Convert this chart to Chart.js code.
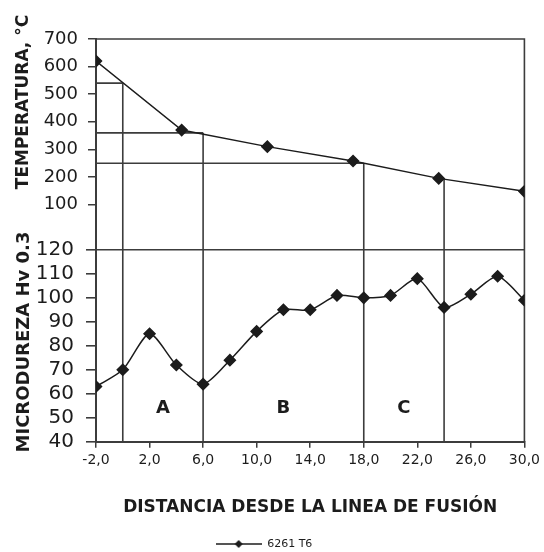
<!DOCTYPE html>
<html>
<head>
<meta charset="utf-8">
<script src="https://cdn.jsdelivr.net/npm/chart.js@4/dist/chart.umd.min.js"></script>
<style>
  html, body { margin: 0; padding: 0; background: #fff; }
  #wrap { width: 544px; height: 552px; }
</style>
</head>
<body>
<div id="wrap"><canvas id="c"></canvas></div>
<script>
// Microhardness profile (Hv 0.3) against distance from the fusion line
const distances = [-2, 0, 2, 4, 6, 8, 10, 12, 14, 16, 18, 20, 22, 24, 26, 28, 30];
const hardness  = [63, 70, 85, 72, 64, 74, 86, 95, 95, 101, 100, 101, 108, 96, 101.5, 109, 99];

// Peak temperature reached at each distance
const tempDistances = [-2, 4.4, 10.8, 17.2, 23.6, 30];
const temperatures  = [620, 370, 310, 258, 195, 148];

// Axis ticks
const xTicks        = [-2, 2, 6, 10, 14, 18, 22, 26, 30];
const tempTicks     = [100, 200, 300, 400, 500, 600, 700];
const hardnessTicks = [40, 50, 60, 70, 80, 90, 100, 110, 120];

// Zone boundaries (distance) and the temperature that defines each one
const zoneBounds    = [0, 6, 18, 24];
const boundTemps    = [540, 360, 250, 192];
const boundLeaders  = [true, true, true, false];
const zoneNames     = ['A', 'B', 'C'];

const seriesName = '6261 T6';

const INK = '#1c1c1c';
const AXIS = '#3c3c3c';
const FONT = '"DejaVu Sans", "Liberation Sans", Arial, sans-serif';

// Legend symbol: a short line with a diamond in the middle
const legendIcon = document.createElement('canvas');
legendIcon.width = 46; legendIcon.height = 10;
(function () {
  const g = legendIcon.getContext('2d');
  g.strokeStyle = INK; g.lineWidth = 1.5;
  g.beginPath(); g.moveTo(0, 5); g.lineTo(46, 5); g.stroke();
  g.fillStyle = INK;
  g.beginPath(); g.moveTo(23, 1); g.lineTo(27, 5); g.lineTo(23, 9); g.lineTo(19, 5); g.closePath(); g.fill();
})();

const zonesPlugin = {
  id: 'zones',
  beforeDatasetsDraw(chart) {
    const { ctx, chartArea: a, scales: { x, yT, yH } } = chart;
    ctx.save();
    ctx.strokeStyle = AXIS;
    ctx.lineWidth = 1.6;
    ctx.beginPath();
    // top and right edges of the frame
    ctx.moveTo(a.left, a.top);
    ctx.lineTo(a.right, a.top);
    ctx.lineTo(a.right, a.bottom);
    // leaders from the temperature curve down to the hardness panel
    zoneBounds.forEach((d, i) => {
      const px = x.getPixelForValue(d);
      const py = yT.getPixelForValue(boundTemps[i]);
      if (boundLeaders[i]) { ctx.moveTo(a.left, py); ctx.lineTo(px, py); }
      ctx.moveTo(px, py);
      ctx.lineTo(px, yH.getPixelForValue(40));
    });
    ctx.stroke();

    // zone letters
    ctx.fillStyle = INK;
    ctx.font = 'bold 18px ' + FONT;
    ctx.textAlign = 'center';
    ctx.textBaseline = 'middle';
    zoneNames.forEach((n, i) => {
      const cx = (x.getPixelForValue(zoneBounds[i]) + x.getPixelForValue(zoneBounds[i + 1])) / 2;
      ctx.fillText(n, cx, yH.getPixelForValue(54));
    });
    ctx.restore();
  },
  afterDraw(chart) {
    const { ctx } = chart;
    ctx.save();
    ctx.fillStyle = INK;
    ctx.font = 'bold 17px ' + FONT;
    ctx.textAlign = 'center';
    ctx.textBaseline = 'middle';
    const vTitle = (text, cx, cy) => {
      ctx.save();
      ctx.translate(cx, cy);
      ctx.rotate(-Math.PI / 2);
      ctx.fillText(text, 0, 0);
      ctx.restore();
    };
    vTitle('TEMPERATURA, °C', 24, 102);
    ctx.font = 'bold 18px ' + FONT;
    vTitle('MICRODUREZA Hv 0.3', 24, 342);
    ctx.restore();
  }
};

const fmtComma = v => Number(v).toFixed(1).replace('.', ',');

new Chart(document.getElementById('c'), {
  type: 'line',
  data: {
    datasets: [
      {
        label: seriesName,
        data: distances.map((d, i) => ({ x: d, y: hardness[i] })),
        xAxisID: 'x',
        yAxisID: 'yH',
        borderColor: INK,
        backgroundColor: INK,
        borderWidth: 1.5,
        tension: 0.25,
        pointStyle: 'rectRot',
        pointRadius: 5.5,
        pointBackgroundColor: INK,
        pointBorderColor: INK
      },
      {
        label: seriesName + ' (T)',
        data: tempDistances.map((d, i) => ({ x: d, y: temperatures[i] })),
        xAxisID: 'x',
        yAxisID: 'yT',
        borderColor: INK,
        backgroundColor: INK,
        borderWidth: 1.5,
        tension: 0,
        pointStyle: 'rectRot',
        pointRadius: 5.5,
        pointBackgroundColor: INK,
        pointBorderColor: INK
      }
    ]
  },
  options: {
    responsive: true,
    maintainAspectRatio: false,
    animation: false,
    layout: { padding: { top: 39, right: 16, left: 0, bottom: -7.5 } },
    plugins: {
      tooltip: { enabled: false },
      legend: {
        position: 'bottom',
        labels: {
          usePointStyle: true,
          pointStyleWidth: 46,
          padding: 10,
          color: INK,
          font: { family: FONT, size: 11 },
          filter: item => item.datasetIndex === 0,
          generateLabels(chart) {
            const items = Chart.defaults.plugins.legend.labels.generateLabels(chart);
            items.forEach(it => { it.pointStyle = legendIcon; });
            return items;
          }
        }
      }
    },
    scales: {
      x: {
        type: 'linear',
        min: -2, max: 30,
        afterBuildTicks: s => { s.ticks = xTicks.map(v => ({ value: v })); },
        afterFit: s => { s.height = 86.8; },
        ticks: { callback: fmtComma, autoSkip: false, color: INK, padding: 4, maxRotation: 0, font: { family: FONT, size: 14 } },
        grid: { drawOnChartArea: false, drawTicks: true, tickLength: 6, color: AXIS, tickColor: AXIS, lineWidth: 1.5 },
        border: { color: AXIS, width: 2 },
        title: {
          display: true,
          text: 'DISTANCIA DESDE LA LINEA DE FUSIÓN',
          color: INK,
          font: { family: FONT, size: 17, weight: 'bold' },
          padding: { top: 0, bottom: 10.3 }
        }
      },
      yT: {
        type: 'linear',
        position: 'left',
        stack: 'panels',
        stackWeight: 210.7,
        weight: 2,
        min: -64, max: 700,
        afterBuildTicks: s => { s.ticks = tempTicks.map(v => ({ value: v })); },
        afterFit: s => { s.width = 96; },
        ticks: { autoSkip: false, color: INK, padding: 10, font: { family: FONT, size: 18 } },
        grid: { drawOnChartArea: false, drawTicks: true, tickLength: 8, color: AXIS, tickColor: AXIS, lineWidth: 1.5 },
        border: { color: AXIS, width: 2 }
      },
      yH: {
        type: 'linear',
        position: 'left',
        stack: 'panels',
        stackWeight: 191.7,
        weight: 1,
        min: 40, max: 120,
        afterBuildTicks: s => { s.ticks = hardnessTicks.map(v => ({ value: v })); },
        afterFit: s => { s.width = 96; },
        ticks: { autoSkip: false, color: INK, padding: 12, font: { family: FONT, size: 20 } },
        grid: {
          drawOnChartArea: true,
          drawTicks: true,
          tickLength: 10,
          color: c => (c.tick && c.tick.value === 120 ? AXIS : 'rgba(0,0,0,0)'),
          tickColor: AXIS,
          lineWidth: 1.6
        },
        border: { color: AXIS, width: 2 }
      }
    }
  },
  plugins: [zonesPlugin]
});
</script>
</body>
</html>
